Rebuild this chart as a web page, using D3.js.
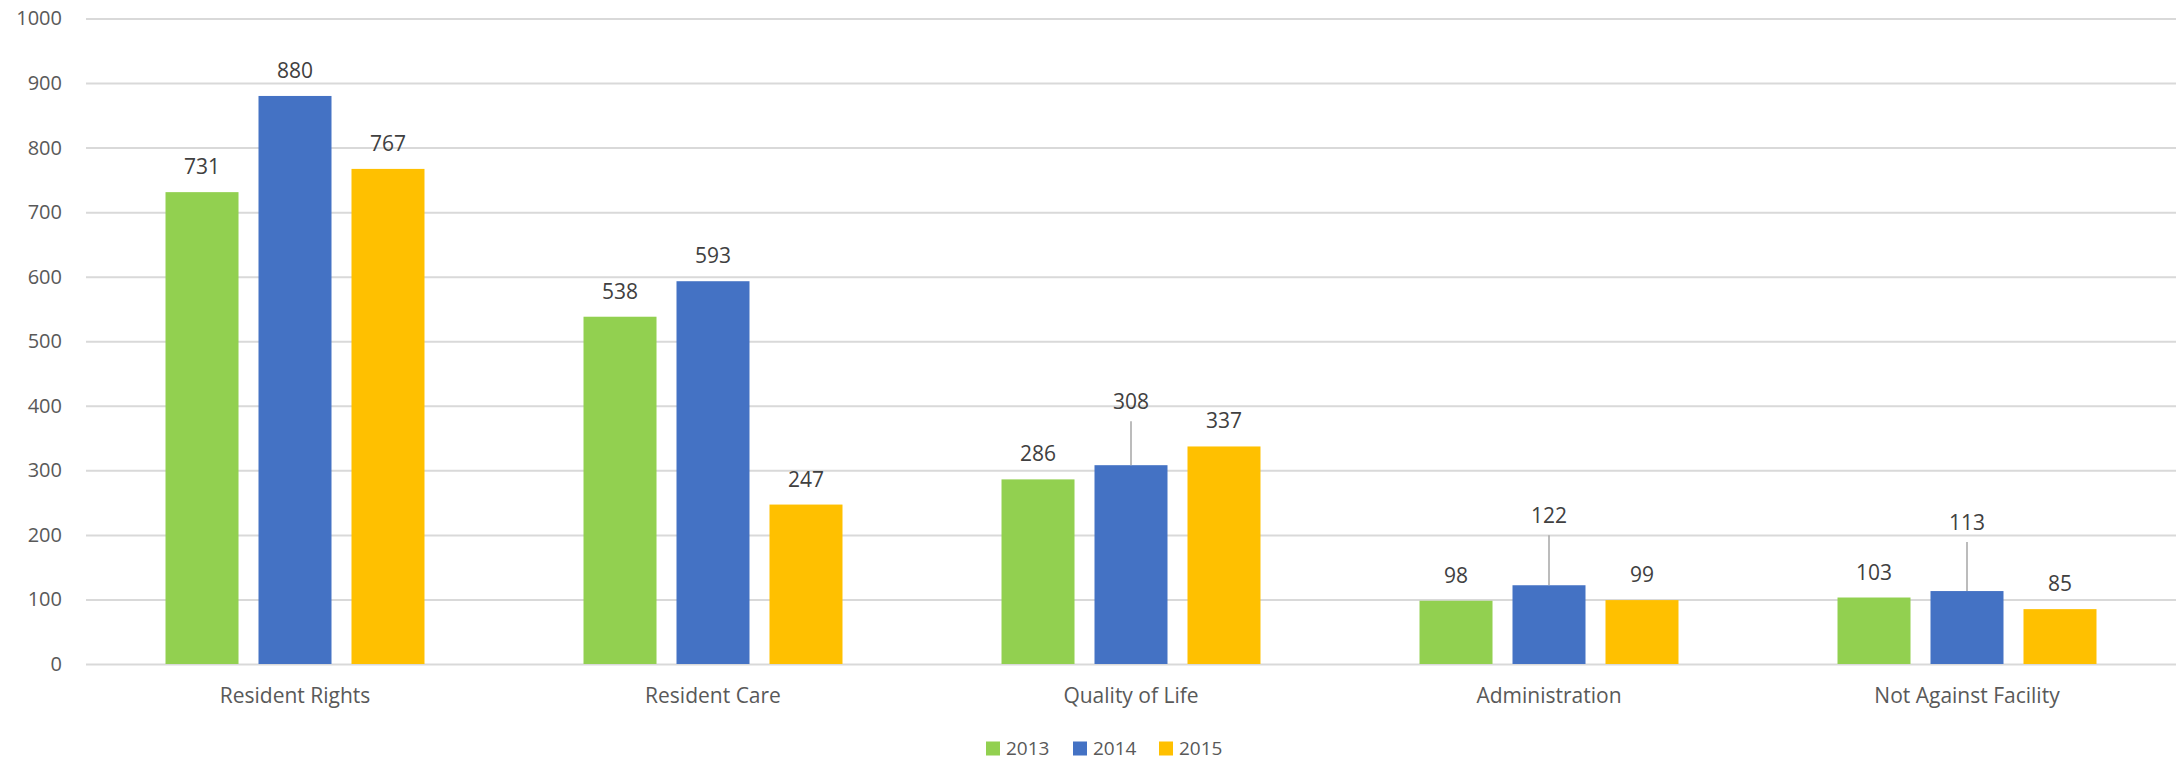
<!DOCTYPE html>
<html lang="en">
    <head>
        <meta charset="utf-8">
        <title>Complaints by category</title>
        <script type="text/javascript" src="https://d3js.org/d3.v7.min.js"></script>
        <style>
          body { margin: 0; background: #fff; }
          text { font-family: "Open Sans", "Noto Sans", sans-serif; }
        </style>
    </head>
    <body>
        <script type="text/javascript">

        // chart data
        var categories = ["Resident Rights", "Resident Care", "Quality of Life", "Administration", "Not Against Facility"];
        var years = ["2013", "2014", "2015"];
        var values2013 = [731, 538, 286, 98, 103];
        var values2014 = [880, 593, 308, 122, 113];
        var values2015 = [767, 247, 337, 99, 85];
        var yTicks = [0, 100, 200, 300, 400, 500, 600, 700, 800, 900, 1000];

        var colors = { "2013": "#92D050", "2014": "#4472C4", "2015": "#FFC000" };

        var w = 2178;
        var h = 760;
        var margin = { top: 18, right: 2, bottom: 96, left: 86 };

        var series = { "2013": values2013, "2014": values2014, "2015": values2015 };

        // labels that Excel pushed up with a leader line (category index|year -> extra lift)
        var lifted = { "2|2014": 38, "3|2014": 44, "4|2014": 43 };

        var svg = d3.select("body")
                    .append("svg")
                    .attr("width", w)
                    .attr("height", h);

        var x0 = d3.scaleBand()
                    .domain(categories)
                    .range([margin.left, w - margin.right]);

        var x1 = d3.scaleBand()
                    .domain(years)
                    .range([0, x0.bandwidth()])
                    .paddingInner(0.215)
                    .paddingOuter(0.855);

        var y = d3.scaleLinear()
                    .domain([0, 1000])
                    .range([h - margin.bottom, margin.top + 0.5]);

        // gridlines + y labels
        var yAxis = svg.append("g")
            .attr("transform", "translate(" + margin.left + ",0)")
            .call(d3.axisLeft(y)
                .tickValues(yTicks)
                .tickFormat(d3.format("d"))
                .tickSize(-(w - margin.left - margin.right))
                .tickPadding(24));
        yAxis.select(".domain").remove();
        yAxis.selectAll(".tick line")
            .attr("stroke", "#d9d9d9")
            .attr("stroke-width", 2);
        yAxis.selectAll(".tick text")
            .attr("fill", "#595959")
            .style("font-size", "20px");

        // x labels
        var xAxis = svg.append("g")
            .attr("transform", "translate(0," + (h - margin.bottom) + ")")
            .call(d3.axisBottom(x0).tickSize(0).tickPadding(24));
        xAxis.select(".domain").remove();
        xAxis.selectAll(".tick text")
            .attr("fill", "#595959")
            .style("font-size", "21px");

        // flatten for drawing
        var rows = [];
        categories.forEach(function(c, i) {
          years.forEach(function(yr) {
            rows.push({ cat: c, idx: i, year: yr, value: series[yr][i] });
          });
        });

        var groups = svg.append("g");

        groups.selectAll("rect")
            .data(rows)
            .enter()
            .append("rect")
            .attr("x", function(d) { return x0(d.cat) + x1(d.year); })
            .attr("y", function(d) { return y(d.value); })
            .attr("width", x1.bandwidth())
            .attr("height", function(d) { return y(0) - y(d.value); })
            .attr("fill", function(d) { return colors[d.year]; });

        // leader lines
        groups.selectAll("line.leader")
            .data(rows.filter(function(d) { return lifted[d.idx + "|" + d.year]; }))
            .enter()
            .append("line")
            .attr("class", "leader")
            .attr("x1", function(d) { return x0(d.cat) + x1(d.year) + x1.bandwidth() / 2; })
            .attr("x2", function(d) { return x0(d.cat) + x1(d.year) + x1.bandwidth() / 2; })
            .attr("y1", function(d) { return y(d.value); })
            .attr("y2", function(d) { return y(d.value) - 18 - lifted[d.idx + "|" + d.year] + 12; })
            .attr("stroke", "#a6a6a6")
            .attr("stroke-width", 1.5);

        // data labels
        groups.selectAll("text.val")
            .data(rows)
            .enter()
            .append("text")
            .attr("class", "val")
            .attr("x", function(d) { return x0(d.cat) + x1(d.year) + x1.bandwidth() / 2; })
            .attr("y", function(d) { return y(d.value) - 18 - (lifted[d.idx + "|" + d.year] || 0); })
            .attr("text-anchor", "middle")
            .attr("fill", "#404040")
            .style("font-size", "21px")
            .text(function(d) { return d.value; });

        // legend
        var legendX = [986, 1073, 1159];
        var legend = svg.append("g");
        var items = legend.selectAll("g")
            .data(years)
            .enter()
            .append("g")
            .attr("transform", function(d, i) { return "translate(" + legendX[i] + ",741.5)"; });
        items.append("rect")
            .attr("width", 14)
            .attr("height", 14)
            .attr("fill", function(d) { return colors[d]; });
        items.append("text")
            .attr("x", 20)
            .attr("y", 13)
            .attr("fill", "#595959")
            .style("font-size", "19px")
            .text(function(d) { return d; });

        </script>
    </body>
</html>
